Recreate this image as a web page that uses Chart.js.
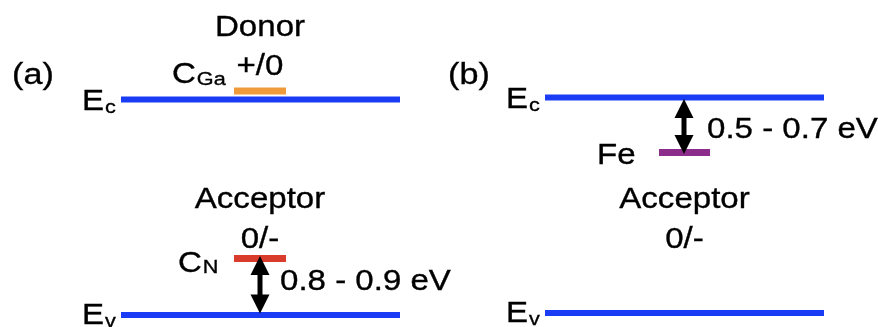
<!DOCTYPE html>
<html>
<head>
<meta charset="utf-8">
<script src="https://cdn.jsdelivr.net/npm/chart.js@4.4.1/dist/chart.umd.min.js"></script>
<style>
html,body{margin:0;padding:0;background:#fff;}
#wrap{width:878px;height:327px;position:relative;}
</style>
</head>
<body>
<div id="wrap"><canvas id="c" width="878" height="327"></canvas></div>
<script>
// ---- data (energies in eV above the valence band maximum) ----
const panels = ['(a)', '(b)'];
const bandNames = ['Ec', 'Ev'];
const bandEnergiesA = [3.4, 0];
const bandEnergiesB = [3.4, 0];
const defectNamesA = ['CGa', 'CN'];
const defectEnergiesA = [3.534, 0.891];
const defectTypesA = ['Donor', 'Acceptor'];
const defectChargeA = ['+/0', '0/-'];
const defectNamesB = ['Fe'];
const defectEnergiesB = [2.532];
const defectTypesB = ['Acceptor'];
const defectChargeB = ['0/-'];
const gapLabels = ['0.8 - 0.9 eV', '0.5 - 0.7 eV'];

// ---- layout ----
const BLUE = '#1a3cf5';
const defectColorsA = ['#ef9b3c', '#d93b2c'];
const defectColorsB = ['#8c2d8c'];
const bandX = [[121, 400], [545, 824]];
const defX = [[234, 286], [659, 710]];

function seg(x0, x1, y) { return [{x: x0, y: y}, {x: x1, y: y}]; }
const ds = [];
bandEnergiesA.forEach(e => ds.push({data: seg(bandX[0][0], bandX[0][1], e), borderColor: BLUE, borderWidth: 6, yAxisID: 'ya'}));
bandEnergiesB.forEach(e => ds.push({data: seg(bandX[1][0], bandX[1][1], e), borderColor: BLUE, borderWidth: 6, yAxisID: 'yb'}));
defectEnergiesA.forEach((e, i) => ds.push({data: seg(defX[0][0], defX[0][1], e), borderColor: defectColorsA[i], borderWidth: 7, yAxisID: 'ya'}));
defectEnergiesB.forEach((e, i) => ds.push({data: seg(defX[1][0], defX[1][1], e), borderColor: defectColorsB[i], borderWidth: 7, yAxisID: 'yb'}));
ds.forEach(d => { d.showLine = true; d.pointRadius = 0; d.fill = false; d.borderCapStyle = 'butt'; d.tension = 0; });

const SX = 1.14;
const FONT = '"Liberation Sans", Arial, Helvetica, sans-serif';
function txt(ctx, t, x, y, size, align) {
  ctx.save();
  ctx.font = size + 'px ' + FONT;
  ctx.fillStyle = '#000';
  ctx.strokeStyle = '#000';
  ctx.lineWidth = 0.35;
  ctx.textBaseline = 'alphabetic';
  const w = ctx.measureText(t).width * SX;
  let x0 = x;
  if (align === 'center') x0 = x - w / 2;
  else if (align === 'right') x0 = x - w;
  ctx.translate(x0, y);
  ctx.scale(SX, 1);
  ctx.textAlign = 'left';
  ctx.fillText(t, 0, 0);
  ctx.strokeText(t, 0, 0);
  ctx.restore();
  return w;
}
function sub(ctx, main, s, x, y, dy) {
  const w = txt(ctx, main, x, y, 29, 'left');
  txt(ctx, s, x + w + 1, y + dy, 19, 'left');
}
function arrow(ctx, x, y1, y2) {
  const hw = 9.5, hl = 19, sw = 5;
  ctx.save();
  ctx.fillStyle = '#000';
  ctx.fillRect(x - sw / 2, y1 + hl - 1, sw, (y2 - y1) - 2 * hl + 2);
  ctx.beginPath();
  ctx.moveTo(x, y1); ctx.lineTo(x + hw, y1 + hl); ctx.lineTo(x - hw, y1 + hl); ctx.closePath(); ctx.fill();
  ctx.beginPath();
  ctx.moveTo(x, y2); ctx.lineTo(x + hw, y2 - hl); ctx.lineTo(x - hw, y2 - hl); ctx.closePath(); ctx.fill();
  ctx.restore();
}

const annot = {
  id: 'annot',
  afterDatasetsDraw(chart) {
    const ctx = chart.ctx, ya = chart.scales.ya, yb = chart.scales.yb;
    const ecA = ya.getPixelForValue(bandEnergiesA[0]), evA = ya.getPixelForValue(bandEnergiesA[1]);
    const ecB = yb.getPixelForValue(bandEnergiesB[0]), evB = yb.getPixelForValue(bandEnergiesB[1]);
    const dA0 = ya.getPixelForValue(defectEnergiesA[0]), dA1 = ya.getPixelForValue(defectEnergiesA[1]);
    const dB0 = yb.getPixelForValue(defectEnergiesB[0]);
    const cxA = (defX[0][0] + defX[0][1]) / 2, cxB = (defX[1][0] + defX[1][1]) / 2;

    // panel labels
    txt(ctx, panels[0], 12, 84, 30, 'left');
    txt(ctx, panels[1], 448, 84, 30, 'left');
    // band labels
    sub(ctx, 'E', 'c', 82, ecA + 10.5, 3);
    sub(ctx, 'E', 'v', 82, evA + 9, 3);
    sub(ctx, 'E', 'c', 506, ecB + 10.5, 3);
    sub(ctx, 'E', 'v', 506, evB + 9, 3);
    // panel (a) defects
    txt(ctx, defectTypesA[0], cxA, 36, 29, 'center');
    txt(ctx, defectChargeA[0], cxA, dA0 - 16, 29, 'center');
    sub(ctx, defectNamesA[0].charAt(0), defectNamesA[0].slice(1), 172, dA0 - 8, 2);
    txt(ctx, defectTypesA[1], cxA, 208, 29, 'center');
    txt(ctx, defectChargeA[1], cxA, dA1 - 10.5, 29, 'center');
    sub(ctx, defectNamesA[1].charAt(0), defectNamesA[1].slice(1), 178, dA1 + 13.5, 1);
    arrow(ctx, cxA, dA1 - 2.5, evA - 1.5);
    txt(ctx, gapLabels[0], 280, 290, 29, 'left');
    // panel (b)
    txt(ctx, defectNamesB[0], 597, dB0 + 11.5, 29, 'left');
    arrow(ctx, cxB - 0.5, ecB + 1.5, dB0 + 1.5);
    txt(ctx, gapLabels[1], 707, 138, 29, 'left');
    txt(ctx, defectTypesB[0], cxB, 208, 29, 'center');
    txt(ctx, defectChargeB[0], cxB, 248, 29, 'center');
  }
};

const PPE = 215.5 / 3.4; // pixels per eV
new Chart(document.getElementById('c'), {
  type: 'scatter',
  data: {datasets: ds},
  options: {
    responsive: false,
    animation: false,
    events: [],
    layout: {padding: 0},
    plugins: {legend: {display: false}, tooltip: {enabled: false}},
    scales: {
      x: {type: 'linear', min: 0, max: 878, display: false},
      ya: {type: 'linear', min: -12 / PPE, max: 315 / PPE, display: false},
      yb: {type: 'linear', min: -14 / PPE, max: 313 / PPE, display: false}
    }
  },
  plugins: [annot]
});
</script>
</body>
</html>
